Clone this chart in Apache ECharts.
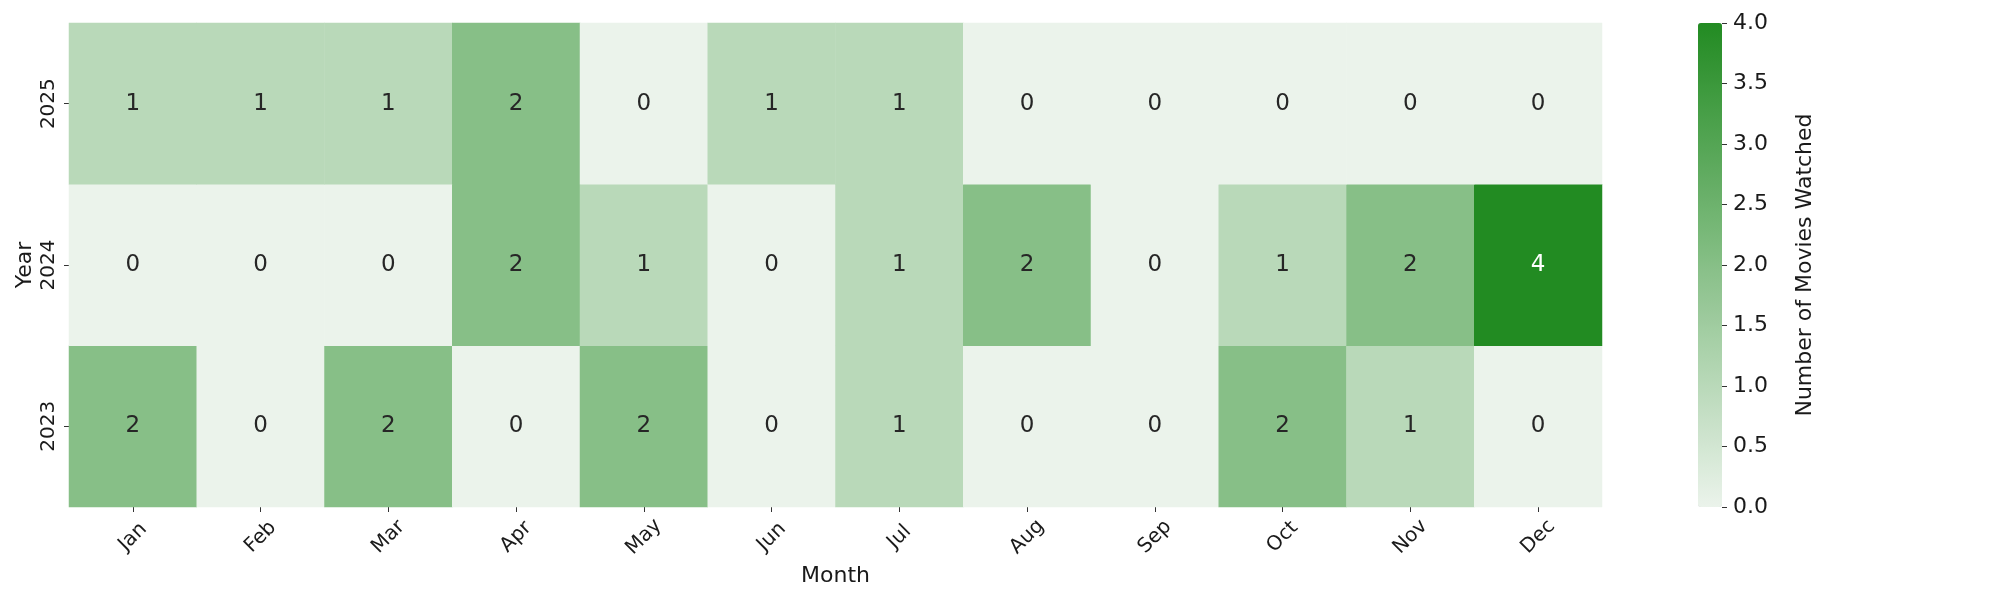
<!DOCTYPE html>
<html>
<head>
<meta charset="utf-8">
<script src="https://cdn.jsdelivr.net/npm/echarts@6/dist/echarts.min.js"></script>
<style>
html,body{margin:0;padding:0;background:#fff;}
#chart{width:2000px;height:600px;}
</style>
</head>
<body>
<div id="chart"></div>
<script>
const months = ['Jan','Feb','Mar','Apr','May','Jun','Jul','Aug','Sep','Oct','Nov','Dec'];
const years = ['2023','2024','2025'];
const counts2023 = [2,0,2,0,2,0,1,0,0,2,1,0];
const counts2024 = [0,0,0,2,1,0,1,2,0,1,2,4];
const counts2025 = [1,1,1,2,0,1,1,0,0,0,0,0];
const colorbarTicks = [0,0.5,1,1.5,2,2.5,3,3.5,4];

const rows = [counts2023, counts2024, counts2025];
const data = [];
rows.forEach((row, yi) => {
  row.forEach((v, xi) => {
    data.push({value:[xi, yi, v], label:{color: v >= 3 ? '#ffffff' : '#262626'}});
  });
});

const FONT = 'DejaVu Sans';
const chart = echarts.init(document.getElementById('chart'));
chart.setOption({
  animation: false,
  textStyle: {fontFamily: FONT},
  grid: [
    {left: 69, right: 398, top: 23, bottom: 93},
    {left: 1698, width: 24, top: 23, bottom: 93}
  ],
  xAxis: [
    {
      type: 'category', data: months, gridIndex: 0,
      axisLine: {show: false},
      axisTick: {show: true, alignWithLabel: true, length: 5, lineStyle: {color: '#333'}},
      axisLabel: {rotate: 45, align: 'center', verticalAlign: 'middle', margin: 30, fontSize: 20, color: '#1a1a1a', fontFamily: FONT},
      splitArea: {show: false}, splitLine: {show: false},
      name: 'Month', nameLocation: 'middle', nameGap: 57,
      nameTextStyle: {fontSize: 22, color: '#1a1a1a', fontFamily: FONT}
    },
    {type: 'value', gridIndex: 1, show: false, min: 0, max: 1}
  ],
  yAxis: [
    {
      type: 'category', data: years, gridIndex: 0,
      axisLine: {show: false},
      axisTick: {show: true, alignWithLabel: true, length: 5, lineStyle: {color: '#333'}},
      axisLabel: {rotate: 90, align: 'center', verticalAlign: 'middle', margin: 20, fontSize: 20, color: '#1a1a1a', fontFamily: FONT},
      splitArea: {show: false}, splitLine: {show: false},
      name: 'Year', nameLocation: 'middle', nameGap: 33, nameRotate: 90, nameMoveOverlap: false,
      nameTextStyle: {fontSize: 22, color: '#1a1a1a', fontFamily: FONT}
    },
    {
      type: 'value', gridIndex: 1, position: 'right',
      min: colorbarTicks[0], max: colorbarTicks[colorbarTicks.length - 1], interval: 0.5,
      axisLine: {show: false, onZero: false},
      axisTick: {show: true, length: 5, lineStyle: {color: '#333'}},
      axisLabel: {margin: 11, fontSize: 22, color: '#1a1a1a', fontFamily: FONT, formatter: v => v.toFixed(1)},
      splitLine: {show: false},
      name: 'Number of Movies Watched', nameLocation: 'middle', nameGap: 72, nameRotate: 90,
      nameTextStyle: {fontSize: 22, color: '#1a1a1a', fontFamily: FONT}
    }
  ],
  visualMap: {
    type: 'continuous', min: 0, max: 4, seriesIndex: 0,
    calculable: false, hoverLink: false,
    left: 1698, top: 23, itemWidth: 24, itemHeight: 484, padding: 0,
    inRange: {color: ['#ebf3eb', '#228b22']},
    text: null, showLabel: false
  },
  series: [{
    type: 'heatmap', xAxisIndex: 0, yAxisIndex: 0,
    data: data,
    label: {show: true, fontSize: 23, fontFamily: FONT, formatter: p => String(p.value[2])},
    itemStyle: {borderWidth: 0},
    emphasis: {disabled: true}
  }]
});
</script>
</body>
</html>
